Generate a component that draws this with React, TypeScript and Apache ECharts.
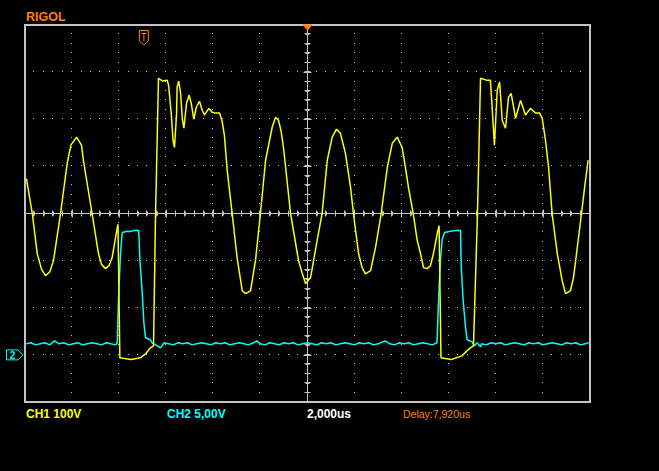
import React, { useEffect, useRef } from "react";
import * as echarts from "echarts";

// ---- scope settings ----
const TIME_MIN = -12; // µs
const TIME_MAX = 12;
const TIME_PER_DIV = 2; // µs/div
const DIV_Y = 4;
const CH1_VOLTS_PER_DIV = 100;
const CH2_VOLTS_PER_DIV = 5;
const CH2_GROUND_DIV = -3.0;
const TRIGGER_TIME = -6.95; // µs

// ---- labels ----
const brandLabel = "RIGOL";
const ch1Label = "CH1 100V";
const ch2Label = "CH2 5,00V";
const timebaseLabel = "2,000us";
const delayLabel = "Delay:7,920us";

// ---- CH1 samples: [time µs, volts] ----
const ch1Samples: [number, number][] = [
  [-11.94, 74], [-11.69, 0], [-11.48, -85], [-11.3, -118], [-11.13, -132], [-10.95, -124],
  [-10.79, -100], [-10.49, 0], [-10.21, 106], [-10.05, 145], [-9.81, 162], [-9.6, 145],
  [-9.52, 113], [-9.15, 0], [-8.88, -85], [-8.75, -108], [-8.58, -117], [-8.42, -110],
  [-8.3, -94], [-8.08, -30], [-8.05, -23], [-7.97, -306], [-7.5, -310], [-7.09, -306],
  [-6.88, -298], [-6.67, -285], [-6.54, -281], [-6.46, -15], [-6.33, 287], [-6.15, 281],
  [-5.96, 283], [-5.9, 272], [-5.79, 213], [-5.71, 155], [-5.65, 140], [-5.56, 213],
  [-5.54, 268], [-5.47, 281], [-5.39, 255], [-5.32, 202], [-5.25, 181], [-5.14, 234],
  [-5.03, 251], [-4.94, 234], [-4.83, 200], [-4.72, 226], [-4.59, 238], [-4.47, 219],
  [-4.38, 209], [-4.19, 223], [-4.05, 215], [-3.91, 213], [-3.73, 213], [-3.62, 194],
  [-3.53, 166], [-3.41, 91], [-3.2, 0], [-2.99, -94], [-2.77, -164], [-2.63, -170],
  [-2.42, -164], [-2.21, -100], [-2.0, 0], [-1.78, 113], [-1.5, 183], [-1.36, 204],
  [-1.23, 198], [-1.12, 174], [-1.02, 140], [-0.72, 0], [-0.38, -100], [-0.22, -128],
  [-0.08, -149], [0.13, -136], [0.41, -57], [0.62, 0], [0.84, 113], [1.05, 162],
  [1.23, 179], [1.4, 170], [1.61, 128], [1.83, 55], [1.95, 0], [2.17, -85],
  [2.32, -115], [2.46, -128], [2.68, -121], [2.89, -72], [3.13, 0], [3.39, 98],
  [3.6, 149], [3.81, 162], [4.02, 140], [4.16, 98], [4.29, 55], [4.49, 0],
  [4.66, -57], [4.8, -85], [4.93, -115], [5.08, -117], [5.22, -111], [5.35, -85],
  [5.51, -43], [5.59, -26], [5.67, -306], [6.1, -310], [6.57, -302], [6.78, -291],
  [6.92, -285], [7.05, -281], [7.22, 0], [7.35, 287], [7.6, 283], [7.77, 283],
  [7.85, 219], [7.94, 145], [8.06, 262], [8.16, 279], [8.27, 198], [8.41, 181],
  [8.54, 247], [8.65, 255], [8.84, 202], [9.05, 240], [9.26, 209], [9.47, 223],
  [9.69, 213], [9.86, 213], [9.97, 202], [10.11, 155], [10.24, 98], [10.39, 0],
  [10.61, -85], [10.82, -143], [10.96, -170], [11.17, -164], [11.3, -136], [11.46, -72],
  [11.64, 0], [11.77, 55], [11.92, 113],
];

// ---- CH2 samples: [time µs, volts] ----
const ch2Samples: [number, number][] = [
  [-11.94, 1.17], [-11.75, 1.28], [-11.55, 1.06], [-11.35, 1.17], [-11.15, 1.28], [-10.95, 1.06],
  [-10.75, 1.49], [-10.55, 1.17], [-10.35, 1.28], [-10.15, 1.06], [-9.95, 1.17], [-9.75, 1.28],
  [-9.55, 1.06], [-9.35, 1.17], [-9.15, 1.28], [-8.95, 1.17], [-8.75, 1.06], [-8.55, 1.28],
  [-8.35, 1.17], [-8.15, 1.06], [-8.08, 1.28],
  [-8.03, 5.85], [-7.94, 10.85], [-7.87, 12.98], [-7.66, 13.12], [-7.52, 13.09], [-7.39, 13.19],
  [-7.23, 13.22], [-7.17, 13.19], [-7.12, 10.11], [-7.02, 6.6], [-6.95, 3.4], [-6.88, 1.81],
  [-6.67, 1.6], [-6.6, 1.28],
  [-6.46, 1.06], [-6.24, 0.74], [-6.1, 1.28], [-5.9, 1.17], [-5.7, 1.06], [-5.5, 1.28],
  [-5.3, 1.17], [-5.1, 1.28], [-4.9, 1.06], [-4.7, 1.17], [-4.5, 1.28], [-4.3, 1.17],
  [-4.1, 1.06], [-3.9, 1.28], [-3.7, 1.17], [-3.5, 1.28], [-3.3, 1.06], [-3.1, 1.17],
  [-2.9, 1.28], [-2.7, 1.17], [-2.5, 1.06], [-2.3, 1.28], [-2.15, 1.49], [-2.0, 1.17],
  [-1.8, 1.06], [-1.6, 1.28], [-1.4, 1.17], [-1.2, 1.06], [-1.0, 1.28], [-0.8, 1.17],
  [-0.6, 1.28], [-0.4, 1.06], [-0.2, 1.17], [0.0, 1.28], [0.2, 1.17], [0.4, 1.06],
  [0.6, 1.28], [0.8, 1.17], [1.0, 1.28], [1.2, 1.06], [1.4, 1.17], [1.6, 1.28],
  [1.8, 1.17], [2.0, 1.06], [2.2, 1.28], [2.4, 1.17], [2.6, 1.28], [2.8, 1.06],
  [3.0, 1.17], [3.3, 1.49], [3.5, 1.17], [3.7, 1.06], [3.9, 1.28], [4.1, 1.17],
  [4.3, 1.28], [4.5, 1.06], [4.7, 1.17], [4.9, 1.28], [5.1, 1.17], [5.3, 1.06],
  [5.5, 1.28],
  [5.58, 6.6], [5.65, 10.11], [5.72, 12.23], [5.82, 12.98], [6.07, 13.12], [6.29, 13.19],
  [6.5, 13.22], [6.53, 9.36], [6.61, 5.85], [6.71, 2.98], [6.78, 1.6], [6.99, 1.38],
  [7.09, 0.96], [7.2, 1.28], [7.35, 0.85], [7.4, 1.17], [7.6, 1.06], [7.8, 1.28],
  [8.0, 1.17], [8.2, 1.28], [8.4, 1.06], [8.6, 1.17], [8.8, 1.28], [9.0, 1.17],
  [9.2, 1.06], [9.4, 1.28], [9.6, 1.17], [9.8, 1.28], [10.0, 1.06], [10.2, 1.17],
  [10.4, 1.28], [10.6, 1.17], [10.8, 1.06], [11.0, 1.28], [11.2, 1.17], [11.4, 1.28],
  [11.6, 1.06], [11.8, 1.17], [11.94, 1.28],
];

const GRAY = "#c4c4c4";
const YELLOW = "#ffff00";
const CYAN = "#00ffff";
const ORANGE = "#ff8000";
const FONT = "Liberation Sans";

export default function App() {
  const ref = useRef<HTMLDivElement>(null);

  useEffect(() => {
    if (!ref.current) return;
    const chart = echarts.init(ref.current, null, { renderer: "svg" });

    const ch1Div = ch1Samples.map(([t, v]) => [t, v / CH1_VOLTS_PER_DIV]);
    const ch2Div = ch2Samples.map(([t, v]) => [t, v / CH2_VOLTS_PER_DIV + CH2_GROUND_DIV]);

    const xBase = (pos: "top" | "bottom") => ({
      type: "value",
      position: pos,
      min: TIME_MIN,
      max: TIME_MAX,
      interval: TIME_PER_DIV,
      axisLine: { show: false },
      axisLabel: { show: false },
      axisTick: { show: true, inside: true, length: 4, lineStyle: { color: GRAY, width: 1 } },
      minorTick: { show: true, splitNumber: 5, length: 2, lineStyle: { color: GRAY, width: 1 } },
      splitLine: { show: false },
      minorSplitLine: { show: false },
    });
    const yBase = (pos: "left" | "right") => ({
      type: "value",
      position: pos,
      min: -DIV_Y,
      max: DIV_Y,
      interval: 1,
      axisLine: { show: false },
      axisLabel: { show: false },
      axisTick: { show: true, inside: true, length: 4, lineStyle: { color: GRAY, width: 1 } },
      minorTick: { show: true, splitNumber: 5, length: 2, lineStyle: { color: GRAY, width: 1 } },
      splitLine: { show: false },
      minorSplitLine: { show: false },
    });

    chart.setOption({
      animation: false,
      backgroundColor: "#000000",
      grid: {
        left: 25,
        top: 25,
        width: 565,
        height: 377,
        show: true,
        borderColor: GRAY,
        borderWidth: 2,
        backgroundColor: "transparent",
      },
      xAxis: [xBase("bottom"), xBase("top")],
      yAxis: [yBase("left"), yBase("right")],
      series: [
        {
          type: "line",
          name: "CH2",
          xAxisIndex: 0,
          yAxisIndex: 0,
          data: ch2Div,
          showSymbol: false,
          symbol: "none",
          lineStyle: { color: CYAN, width: 1.5 },
          z: 3,
        },
        {
          type: "line",
          name: "CH1",
          xAxisIndex: 0,
          yAxisIndex: 0,
          data: ch1Div,
          showSymbol: false,
          symbol: "none",
          lineStyle: { color: YELLOW, width: 1.5 },
          z: 4,
        },
      ],
    });

    const px = (t: number, d: number) =>
      chart.convertToPixel({ xAxisIndex: 0, yAxisIndex: 0 }, [t, d]) as number[];

    const elements: any[] = [];
    const [cx, cy] = px(0, 0);
    const [lx, ty] = px(TIME_MIN, DIV_Y);
    const [rx, by] = px(TIME_MAX, -DIV_Y);
    const ccx = Math.round(cx) - 0.5;
    const ccy = Math.round(cy) - 0.5;

    // dotted graticule: dots every 1/5 division along each division line
    const dot = (x: number, y: number) => ({
      type: "rect",
      z: 0,
      silent: true,
      shape: { x: Math.round(x) - 1, y: Math.round(y) - 1, width: 1, height: 1 },
      style: { fill: GRAY },
    });
    for (let i = 1; i < 12; i++) {
      if (i === 6) continue;
      const t = TIME_MIN + i * TIME_PER_DIV;
      for (let k = 1; k < 40; k++) {
        const d = -DIV_Y + k * 0.2;
        const p = px(t, d);
        elements.push(dot(p[0], p[1]));
      }
    }
    for (let j = 1; j < 8; j++) {
      if (j === 4) continue;
      const d = -DIV_Y + j;
      for (let k = 1; k < 60; k++) {
        const t = TIME_MIN + k * (TIME_PER_DIV / 5);
        const p = px(t, d);
        elements.push(dot(p[0], p[1]));
      }
    }

    // center cross
    elements.push({ type: "line", z: 1, shape: { x1: ccx, y1: ty, x2: ccx, y2: by }, style: { stroke: GRAY, lineWidth: 1 } });
    elements.push({ type: "line", z: 1, shape: { x1: lx, y1: ccy, x2: rx, y2: ccy }, style: { stroke: GRAY, lineWidth: 1 } });
    for (let k = 0; k <= 60; k++) {
      const t = TIME_MIN + k * (TIME_PER_DIV / 5);
      const x = Math.round(px(t, 0)[0]) - 0.5;
      elements.push({ type: "line", z: 1, shape: { x1: x, y1: ccy - 3, x2: x, y2: ccy + 3 }, style: { stroke: GRAY, lineWidth: 1 } });
    }
    for (let k = 0; k <= 40; k++) {
      const d = -DIV_Y + k * 0.2;
      const y = Math.round(px(0, d)[1]) - 0.5;
      elements.push({ type: "line", z: 1, shape: { x1: ccx - 3, y1: y, x2: ccx + 3, y2: y }, style: { stroke: GRAY, lineWidth: 1 } });
    }

    // top center marker
    elements.push({
      type: "polygon",
      z: 10,
      shape: { points: [[cx - 4.5, ty], [cx + 4.5, ty], [cx, ty + 5]] },
      style: { fill: ORANGE, stroke: ORANGE, lineWidth: 1 },
    });

    // trigger marker
    const tx = px(TRIGGER_TIME, 0)[0];
    elements.push({
      type: "polygon",
      z: 10,
      shape: { points: [[tx - 4.5, ty + 5.5], [tx + 4.5, ty + 5.5], [tx + 4.5, ty + 16], [tx, ty + 20], [tx - 4.5, ty + 16]] },
      style: { fill: "none", stroke: ORANGE, lineWidth: 1 },
    });
    elements.push({ type: "line", z: 10, shape: { x1: tx - 2.5, y1: ty + 8.5, x2: tx + 2.5, y2: ty + 8.5 }, style: { stroke: ORANGE, lineWidth: 1 } });
    elements.push({ type: "line", z: 10, shape: { x1: tx, y1: ty + 8.5, x2: tx, y2: ty + 16 }, style: { stroke: ORANGE, lineWidth: 1 } });

    // CH2 ground marker
    const gy = px(TIME_MIN, CH2_GROUND_DIV)[1];
    elements.push({
      type: "polygon",
      z: 10,
      shape: { points: [[6.5, gy - 5], [18, gy - 5], [23, gy], [18, gy + 5], [6.5, gy + 5]] },
      style: { fill: "none", stroke: CYAN, lineWidth: 1 },
    });
    elements.push({
      type: "text",
      z: 11,
      x: 12.5,
      y: gy + 0.5,
      style: { text: "2", fill: CYAN, fontFamily: FONT, fontWeight: "bold", fontSize: 10, align: "center", verticalAlign: "middle" },
    });

    // texts
    const textEl = (text: string, x: number, y: number, fill: string, size: number, weight: string) => ({
      type: "text",
      z: 10,
      x,
      y,
      style: { text, fill, fontFamily: FONT, fontWeight: weight, fontSize: size, align: "left", verticalAlign: "middle" },
    });
    elements.push(textEl(brandLabel, 26, 16.5, ORANGE, 12.5, "bold"));
    elements.push(textEl(ch1Label, 26, 413.5, YELLOW, 12, "bold"));
    elements.push(textEl(ch2Label, 167, 413.5, CYAN, 12, "bold"));
    elements.push(textEl(timebaseLabel, 307, 413.5, "#ffffff", 12, "bold"));
    elements.push(textEl(delayLabel, 403, 413.5, ORANGE, 10.5, "normal"));

    chart.setOption({ graphic: { elements } });

    return () => chart.dispose();
  }, []);

  return (
    <div
      ref={ref}
      style={{ position: "fixed", left: 0, top: 0, width: 659, height: 471, background: "#000" }}
    />
  );
}
